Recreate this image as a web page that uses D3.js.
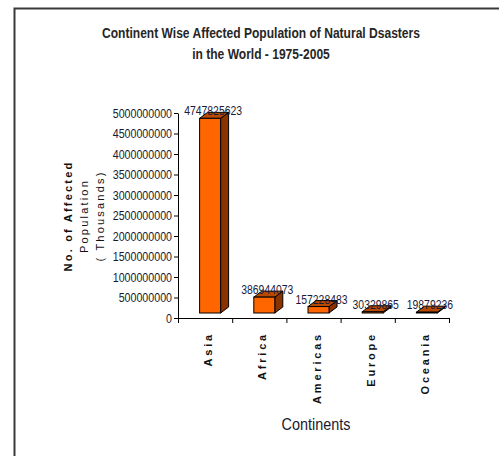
<!DOCTYPE html>
<html>
<head>
<meta charset="utf-8">
<script src="https://cdn.jsdelivr.net/npm/d3@7/dist/d3.min.js"></script>
<style>
  html, body { margin: 0; padding: 0; background: #fff; }
  svg { display: block; }
  text { font-family: "Liberation Sans", Arial, sans-serif; }
</style>
</head>
<body>
<svg id="chart" width="499" height="456"></svg>
<script>
// Affected population by continent, 1975-2005
const continents = ["Asia", "Africa", "Americas", "Europe", "Oceania"];
const affected = [4747825623, 386944073, 157228483, 30329865, 19879236];
const yTicks = [0, 500000000, 1000000000, 1500000000, 2000000000, 2500000000,
                3000000000, 3500000000, 4000000000, 4500000000, 5000000000];
const titleLines = ["Continent Wise Affected Population of Natural Dsasters",
                    "in the World - 1975-2005"];
const yTitleLines = ["No. of Affected", "Population", "( Thousands)"];
const xTitle = "Continents";

const svg = d3.select("#chart");

// squeeze glyphs horizontally to get a condensed face
function condense(sel, factor) {
  sel.each(function() {
    const w = this.getComputedTextLength();
    d3.select(this).attr("textLength", w * factor).attr("lengthAdjust", "spacingAndGlyphs");
  });
}

// outer frame
svg.append("rect")
  .attr("x", 14.5).attr("y", 8.5)
  .attr("width", 600).attr("height", 600)
  .attr("fill", "#fff").attr("stroke", "#3a3a3a").attr("stroke-width", 2);

const x = d3.scaleBand().domain(continents).range([178, 449]).padding(0);
const y = d3.scaleLinear().domain([0, 5000000000]).range([318, 113]);

// 3D column geometry
const shift = { dx: 5, dy: -5 };
const depth = { dx: 8, dy: -6 };
const barW = 21;

// y axis
const yAxis = svg.append("g")
  .attr("transform", "translate(178,0)")
  .call(d3.axisLeft(y).tickValues(yTicks).tickFormat(d3.format("d")).tickSize(4).tickSizeOuter(0));
yAxis.select(".domain").attr("stroke", "#000").attr("stroke-width", 1);
yAxis.selectAll(".tick line").attr("stroke", "#000");
yAxis.selectAll(".tick text")
  .attr("font-family", "Liberation Sans, Arial, sans-serif")
  .attr("font-size", 13).attr("fill", "#1a1a2e").attr("x", -6)
  .call(condense, 0.82);

// x axis line and category boundary ticks
svg.append("line")
  .attr("x1", x.range()[0]).attr("x2", x.range()[1])
  .attr("y1", y(0) + 0.5).attr("y2", y(0) + 0.5)
  .attr("stroke", "#000");
const bounds = continents.map(c => x(c)).concat([x.range()[1]]);
svg.selectAll(".xtick").data(bounds).join("line")
  .attr("class", "xtick")
  .attr("x1", d => d + 0.5).attr("x2", d => d + 0.5)
  .attr("y1", y(0)).attr("y2", y(0) + 5)
  .attr("stroke", "#000");

// bars
const rows = continents.map((c, i) => ({ c, v: affected[i] }));
const bars = svg.append("g").selectAll("g").data(rows).join("g");

bars.each(function(d) {
  const g = d3.select(this);
  const cx = x(d.c) + x.bandwidth() / 2 + shift.dx;
  const x0 = cx - barW / 2, x1 = cx + barW / 2;
  const yb = y(0) + shift.dy, yt = y(d.v) + shift.dy;
  // side face
  g.append("path")
    .attr("d", `M${x1},${yb}L${x1 + depth.dx},${yb + depth.dy}L${x1 + depth.dx},${yt + depth.dy}L${x1},${yt}Z`)
    .attr("fill", "#8a3200").attr("stroke", "#000").attr("stroke-width", 1).attr("stroke-linejoin", "round");
  // top face
  g.append("path")
    .attr("d", `M${x0},${yt}L${x0 + depth.dx},${yt + depth.dy}L${x1 + depth.dx},${yt + depth.dy}L${x1},${yt}Z`)
    .attr("fill", "#b84a00").attr("stroke", "#000").attr("stroke-width", 1).attr("stroke-linejoin", "round");
  // front face
  g.append("rect")
    .attr("x", x0).attr("y", yt)
    .attr("width", barW).attr("height", Math.max(yb - yt, 0.5))
    .attr("fill", "#ff6600").attr("stroke", "#000").attr("stroke-width", 1);
});

// value labels drawn above all bars
svg.append("g").selectAll("text").data(rows).join("text")
  .attr("x", d => x(d.c) + x.bandwidth() / 2 + shift.dx + 3)
  .attr("y", d => y(d.v) + shift.dy - 3)
  .attr("text-anchor", "middle")
  .attr("font-size", 13).attr("fill", "#1a1a3a")
  .text(d => d.v)
  .call(condense, 0.8);

// category labels (vertical)
svg.selectAll(".xlab").data(continents).join("text")
  .attr("class", "xlab")
  .attr("transform", d => `translate(${x(d) + x.bandwidth() / 2 + 3},332) rotate(-90)`)
  .attr("text-anchor", "end").attr("dominant-baseline", "central")
  .attr("font-weight", "bold").attr("font-size", 11).attr("letter-spacing", 2.8)
  .attr("fill", "#111")
  .text(d => d);

// title
svg.selectAll(".title").data(titleLines).join("text")
  .attr("class", "title")
  .attr("x", 261).attr("y", (d, i) => 38 + i * 21)
  .attr("text-anchor", "middle")
  .attr("font-weight", "bold").attr("font-size", 14).attr("fill", "#262626")
  .text(d => d)
  .call(condense, 0.86);

// y axis title
svg.selectAll(".ytitle").data(yTitleLines).join("text")
  .attr("class", "ytitle")
  .attr("transform", (d, i) => `translate(${68 + i * 16},216) rotate(-90)`)
  .attr("text-anchor", "middle").attr("dominant-baseline", "central")
  .attr("font-weight", (d, i) => i === 0 ? "bold" : "normal")
  .attr("font-size", 11).attr("letter-spacing", 2.2)
  .attr("fill", "#111")
  .text(d => d);

// x axis title
svg.append("text")
  .attr("x", 316).attr("y", 430)
  .attr("text-anchor", "middle")
  .attr("font-size", 16).attr("fill", "#1a1a2e")
  .text(xTitle)
  .call(condense, 0.9);
</script>
</body>
</html>
